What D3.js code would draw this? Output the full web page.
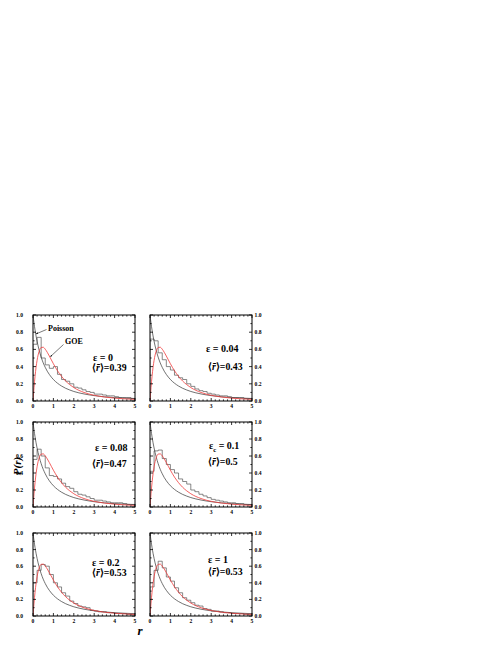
<!DOCTYPE html>
<html><head><meta charset="utf-8">
<script src="https://cdn.jsdelivr.net/npm/d3@7/dist/d3.min.js"></script>
<style>body{margin:0;background:#fff}svg{display:block}</style>
</head><body>
<svg id="c" width="498" height="645"></svg>
<script>
// ---------- data ----------
const rBins = [0,0.2,0.4,0.6,0.8,1.0,1.2,1.4,1.6,1.8,2.0,2.2,2.4,2.6,2.8,3.0,3.2,3.4,3.6,3.8,4.0,4.2,4.4,4.6,4.8];
const binWidth = 0.2;
const histEps0   = [0.66,0.74,0.50,0.42,0.38,0.40,0.31,0.25,0.23,0.20,0.16,0.15,0.13,0.11,0.10,0.08,0.08,0.07,0.06,0.06,0.05,0.04,0.04,0.04,0.03];
const histEps004 = [0.72,0.70,0.56,0.48,0.40,0.36,0.30,0.27,0.25,0.20,0.17,0.14,0.12,0.11,0.09,0.08,0.07,0.06,0.06,0.05,0.04,0.04,0.04,0.03,0.03];
const histEps008 = [0.56,0.68,0.60,0.46,0.37,0.36,0.33,0.28,0.24,0.22,0.18,0.15,0.14,0.12,0.10,0.08,0.08,0.07,0.06,0.05,0.05,0.05,0.04,0.03,0.03];
const histEps01  = [0.42,0.66,0.67,0.57,0.50,0.44,0.40,0.33,0.30,0.27,0.20,0.18,0.15,0.13,0.11,0.09,0.08,0.07,0.06,0.05,0.05,0.04,0.04,0.03,0.03];
const histEps02  = [0.40,0.55,0.62,0.60,0.50,0.40,0.35,0.28,0.24,0.18,0.15,0.12,0.11,0.10,0.07,0.06,0.05,0.05,0.04,0.04,0.03,0.03,0.03,0.02,0.02];
const histEps1   = [0.35,0.55,0.66,0.58,0.47,0.42,0.34,0.28,0.22,0.19,0.16,0.13,0.12,0.09,0.08,0.06,0.06,0.05,0.04,0.04,0.03,0.03,0.03,0.02,0.02];
const histograms = [histEps0, histEps004, histEps008, histEps01, histEps02, histEps1];

const rCurve      = [0,0.025,0.05,0.1,0.15,0.2,0.3,0.4,0.5,0.6,0.7,0.8,1.0,1.2,1.4,1.6,1.8,2.0,2.5,3.0,3.5,4.0,4.5,5.0];
const poissonVals = [1.0,0.952,0.907,0.826,0.756,0.694,0.592,0.510,0.444,0.391,0.346,0.309,0.250,0.207,0.174,0.148,0.128,0.111,0.082,0.0625,0.049,0.040,0.033,0.028];
const goeVals     = [0,0.081,0.156,0.286,0.391,0.473,0.578,0.622,0.625,0.602,0.566,0.523,0.433,0.352,0.286,0.232,0.190,0.156,0.0995,0.0665,0.0463,0.0334,0.0248,0.0189];

const epsLabels = ["0","0.04","0.08","0.1","0.2","1"];
const epsCritical = [false,false,false,true,false,false];
const meanR = ["0.39","0.43","0.47","0.5","0.53","0.53"];

const xTicks = [0,1,2,3,4,5];
const yTicks = [0.0,0.2,0.4,0.6,0.8,1.0];
const xMinor = [0.2,0.4,0.6,0.8,1.2,1.4,1.6,1.8,2.2,2.4,2.6,2.8,3.2,3.4,3.6,3.8,4.2,4.4,4.6,4.8];
const yMinor = [0.1,0.3,0.5,0.7,0.9];

// ---------- layout ----------
const colX = [33,150], pw = 102;
const rowY = [315,422,533], rowH = [86,85,83];
// per-panel text placement [epsX, epsY, rX, rY] relative to panel left/top
const textPos = [[60,46,59,56],[56,37,58,55],[62,29,59,45],[59,27,58,43],[59,33,59,43],[58,30,58,42]];

const svg = d3.select("#c");
const FONT = "'Liberation Serif','Times New Roman',serif";

const defs = svg.append("defs");
defs.append("marker").attr("id","arr").attr("viewBox","0 0 10 10").attr("refX",9).attr("refY",5)
  .attr("markerWidth",4).attr("markerHeight",4).attr("orient","auto")
  .append("path").attr("d","M0,1 L10,5 L0,9 z").attr("fill","#222");

histograms.forEach((hist, i) => {
  const col = i % 2, row = Math.floor(i / 2);
  const x0 = colX[col], y0 = rowY[row], ph = rowH[row];
  const x = d3.scaleLinear().domain([0,5]).range([x0, x0 + pw]);
  const y = d3.scaleLinear().domain([0,1]).range([y0 + ph, y0]);
  const g = svg.append("g");

  const cid = "clip" + i;
  defs.append("clipPath").attr("id", cid).append("rect")
    .attr("x", x0).attr("y", y0).attr("width", pw).attr("height", ph);
  const pg = g.append("g").attr("clip-path", `url(#${cid})`);

  // histogram step outline
  const p = d3.path();
  p.moveTo(x(0), y(0));
  hist.forEach((h, k) => {
    p.lineTo(x(rBins[k]), y(h));
    p.lineTo(x(rBins[k] + binWidth), y(h));
  });
  p.lineTo(x(rBins[rBins.length-1] + binWidth), y(0));
  pg.append("path").attr("d", p.toString()).attr("fill","none")
    .attr("stroke","#555").attr("stroke-width",0.7);

  const line = d3.line().x(d => x(d[0])).y(d => y(d[1])).curve(d3.curveMonotoneX);
  pg.append("path").attr("d", line(rCurve.map((r,k)=>[r,poissonVals[k]])))
    .attr("fill","none").attr("stroke","#333").attr("stroke-width",0.7);
  pg.append("path").attr("d", line(rCurve.map((r,k)=>[r,goeVals[k]])))
    .attr("fill","none").attr("stroke","#f03a3a").attr("stroke-width",0.8);

  // frame
  g.append("rect").attr("x", x0).attr("y", y0).attr("width", pw).attr("height", ph)
    .attr("fill","none").attr("stroke","#000").attr("stroke-width",1);

  // ticks (inward, all four sides)
  const tk = g.append("g").attr("stroke","#000").attr("stroke-width",0.8);
  xTicks.forEach(t => {
    tk.append("line").attr("x1",x(t)).attr("x2",x(t)).attr("y1",y(0)).attr("y2",y(0)-3);
    tk.append("line").attr("x1",x(t)).attr("x2",x(t)).attr("y1",y(1)).attr("y2",y(1)+3);
  });
  xMinor.forEach(t => {
    tk.append("line").attr("x1",x(t)).attr("x2",x(t)).attr("y1",y(0)).attr("y2",y(0)-1.6);
    tk.append("line").attr("x1",x(t)).attr("x2",x(t)).attr("y1",y(1)).attr("y2",y(1)+1.6);
  });
  yTicks.forEach(t => {
    tk.append("line").attr("x1",x(0)).attr("x2",x(0)+3).attr("y1",y(t)).attr("y2",y(t));
    tk.append("line").attr("x1",x(5)).attr("x2",x(5)-3).attr("y1",y(t)).attr("y2",y(t));
  });
  yMinor.forEach(t => {
    tk.append("line").attr("x1",x(0)).attr("x2",x(0)+1.6).attr("y1",y(t)).attr("y2",y(t));
    tk.append("line").attr("x1",x(5)).attr("x2",x(5)-1.6).attr("y1",y(t)).attr("y2",y(t));
  });

  // tick labels
  xTicks.forEach(t => {
    g.append("text").attr("x", x(t)).attr("y", y(0) + 7).attr("text-anchor","middle")
      .attr("font-family",FONT).attr("font-weight","bold").attr("font-size",5.6).text(t);
  });
  yTicks.forEach(t => {
    const lx = col === 0 ? x0 - 10 : x0 + pw + 2.6;
    g.append("text").attr("x", lx).attr("y", y(t) + 2)
      .attr("text-anchor", col === 0 ? "end" : "start")
      .attr("font-family",FONT).attr("font-weight","bold").attr("font-size",5.6).text(t.toFixed(1));
  });

  // annotations
  const tp = textPos[i];
  const et = g.append("text").attr("x", x0 + tp[0]).attr("y", y0 + tp[1])
    .attr("font-family",FONT).attr("font-weight","bold").attr("font-size",10);
  et.append("tspan").text("ε");
  if (epsCritical[i]) et.append("tspan").attr("font-size",6.5).attr("dy",2.5).text("c");
  et.append("tspan").attr("dy", epsCritical[i] ? -2.5 : 0).text(" = " + epsLabels[i]);

  const rt = g.append("text").attr("x", x0 + tp[2]).attr("y", y0 + tp[3])
    .attr("font-family",FONT).attr("font-weight","bold").attr("font-size",9.8);
  rt.append("tspan").text("\u27E8");
  rt.append("tspan").attr("font-style","italic").text("r\u0304");
  rt.append("tspan").text("\u27E9=" + meanR[i]);

  if (i === 0) {
    g.append("text").attr("x", x0 + 15).attr("y", y0 + 16)
      .attr("font-family",FONT).attr("font-weight","bold").attr("font-size",8).text("Poisson");
    g.append("line").attr("x1", x0 + 13.5).attr("y1", y0 + 14.5).attr("x2", x(0.15)).attr("y2", y(0.78))
      .attr("stroke","#222").attr("stroke-width",0.6).attr("marker-end","url(#arr)");
    g.append("text").attr("x", x0 + 32).attr("y", y0 + 29)
      .attr("font-family",FONT).attr("font-weight","bold").attr("font-size",8).text("GOE");
    g.append("line").attr("x1", x0 + 30.5).attr("y1", y0 + 29.5).attr("x2", x(0.85)).attr("y2", y(0.515))
      .attr("stroke","#222").attr("stroke-width",0.6).attr("marker-end","url(#arr)");
  }
});

// axis titles
svg.append("text").attr("transform","translate(21,466) rotate(-90)").attr("text-anchor","middle")
  .attr("font-family",FONT).attr("font-weight","bold").attr("font-style","italic").attr("font-size",11)
  .text("P(r)");
svg.append("text").attr("x",140).attr("y",635).attr("text-anchor","middle")
  .attr("font-family",FONT).attr("font-weight","bold").attr("font-style","italic").attr("font-size",13)
  .text("r");
</script>
</body></html>
